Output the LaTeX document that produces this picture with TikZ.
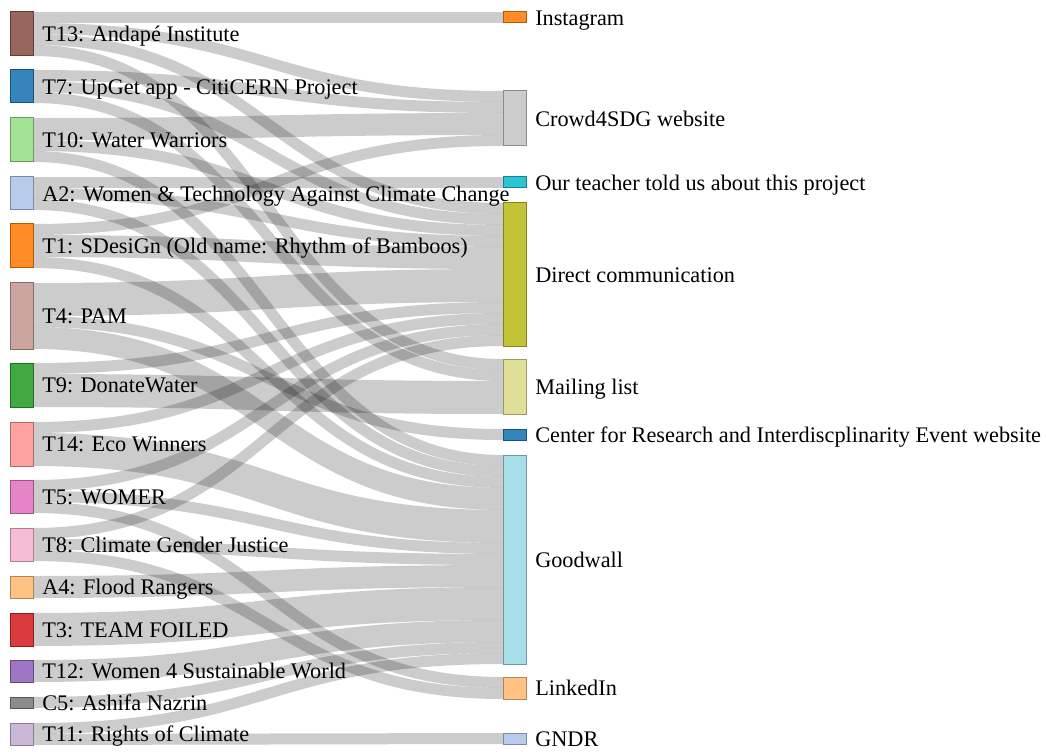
\documentclass[tikz,border=0pt]{standalone}
\usepackage{fontspec}
\setmainfont{Liberation Serif}
\usetikzlibrary{positioning,backgrounds}
\definecolor{cTxiii}{HTML}{8C564B}
\definecolor{cTvii}{HTML}{1F77B4}
\definecolor{cTx}{HTML}{98DF8A}
\definecolor{cAii}{HTML}{AEC7E8}
\definecolor{cTi}{HTML}{FF7F0E}
\definecolor{cTiv}{HTML}{C49C94}
\definecolor{cTix}{HTML}{2CA02C}
\definecolor{cTxiv}{HTML}{FF9896}
\definecolor{cTv}{HTML}{E377C2}
\definecolor{cTviii}{HTML}{F7B6D2}
\definecolor{cAiv}{HTML}{FFBB78}
\definecolor{cTiii}{HTML}{D62728}
\definecolor{cTxii}{HTML}{9467BD}
\definecolor{cCv}{HTML}{7F7F7F}
\definecolor{cTxi}{HTML}{C5B0D5}
\definecolor{cCrowd}{HTML}{C7C7C7}
\definecolor{cTeach}{HTML}{17BECF}
\definecolor{cDirect}{HTML}{BCBD22}
\definecolor{cMail}{HTML}{DBDB8D}
\definecolor{cGood}{HTML}{9EDAE5}
\tikzset{
  box/.style={rectangle,anchor=north west,inner sep=0pt,outer sep=0pt,
    minimum width=17.25pt,fill opacity=.9,line width=.75pt},
  lbl/.style={inner sep=0pt,font=\fontsize{16.7pt}{20pt}\selectfont},
  flow/.style={draw=black,draw opacity=.2}
}
% team on the left, channel on the right: name, top, units, colour, text
\newcommand\team[5]{\node(#1)[box,fill=#4,draw=#4!70!black,minimum height=#3*8.25pt] at (10,#2) {};
  \node(#1-l)[lbl,right=6.75pt of #1,anchor=base west,yshift=-5.85pt]{#5};}
\newcommand\channel[5]{\node(#1)[box,fill=#4,draw=#4!70!black,minimum height=#3*8.25pt] at (503,#2) {};
  \node(#1-l)[lbl,right=6.75pt of #1,anchor=base west,yshift=-5.85pt]{#5};}
% source, offset at source, target, offset at target, units
\newcommand\flow[5]{\draw[flow,line width=#5*8.25pt]
  ([yshift=-#2*8.25pt-#5*4.125pt]#1.north east) .. controls +(235,0) and +(-235,0) .. ([yshift=-#4*8.25pt-#5*4.125pt]#3.north west);}

\begin{document}
\begin{tikzpicture}[x=.75pt,y=-.75pt]
  \useasboundingbox (0,0) rectangle (1046,752);
  \team{T13}{12}{4}{cTxiii}{T13: Andapé Institute}
  \team{T7}{70}{3}{cTvii}{T7: UpGet app - CitiCERN Project}
  \team{T10}{118}{4}{cTx}{T10: Water Warriors}
  \team{A2}{177}{3}{cAii}{A2: Women \& Technology Against Climate Change}
  \team{T1}{224}{4}{cTi}{T1: SDesiGn (Old name: Rhythm of Bamboos)}
  \team{T4}{283}{6}{cTiv}{T4: PAM}
  \team{T9}{363}{4}{cTix}{T9: DonateWater}
  \team{T14}{422}{4}{cTxiv}{T14: Eco Winners}
  \team{T5}{480}{3}{cTv}{T5: WOMER}
  \team{T8}{528}{3}{cTviii}{T8: Climate Gender Justice}
  \team{A4}{576}{2}{cAiv}{A4: Flood Rangers}
  \team{T3}{613}{3}{cTiii}{T3: TEAM FOILED}
  \team{T12}{660}{2}{cTxii}{T12: Women 4 Sustainable World}
  \team{C5}{697}{1}{cCv}{C5: Ashifa Nazrin}
  \team{T11}{723}{2}{cTxi}{T11: Rights of Climate}

  \channel{Insta}{12}{1}{cTi}{Instagram}
  \channel{Crowd}{91}{5}{cCrowd}{Crowd4SDG website}
  \channel{Teach}{177}{1}{cTeach}{Our teacher told us about this project}
  \channel{Direct}{203}{13}{cDirect}{Direct communication}
  \channel{Mail}{359}{5}{cMail}{Mailing list}
  \channel{CRI}{429}{1}{cTvii}{Center for Research and Interdiscplinarity Event website}
  \channel{Good}{455}{19}{cGood}{Goodwall}
  \channel{Linked}{677}{2}{cAiv}{LinkedIn}
  \channel{GNDR}{733}{1}{cAii}{GNDR}

  \begin{scope}[on background layer]
  \flow{T13}{0}{Insta}{0}{1}   \flow{T13}{1}{Crowd}{0}{1}
  \flow{T13}{2}{Direct}{0}{1}  \flow{T13}{3}{Mail}{0}{1}
  \flow{T7}{0}{Crowd}{1}{1}    \flow{T7}{1}{Direct}{1}{1}
  \flow{T7}{2}{Mail}{1}{1}
  \flow{T10}{0}{Crowd}{2}{2}   \flow{T10}{2}{Direct}{2}{1}
  \flow{T10}{3}{Good}{0}{1}
  \flow{A2}{0}{Teach}{0}{1}    \flow{A2}{1}{Direct}{3}{1}
  \flow{A2}{2}{Good}{1}{1}
  \flow{T1}{0}{Crowd}{4}{1}    \flow{T1}{1}{Direct}{4}{2}
  \flow{T1}{3}{Good}{2}{1}
  \flow{T4}{0}{Direct}{6}{3}   \flow{T4}{3}{CRI}{0}{1}
  \flow{T4}{4}{Good}{3}{2}
  \flow{T9}{0}{Direct}{9}{1}   \flow{T9}{1}{Mail}{2}{3}
  \flow{T14}{0}{Direct}{10}{1} \flow{T14}{1}{Good}{5}{3}
  \flow{T5}{0}{Direct}{11}{1}  \flow{T5}{1}{Good}{8}{1}
  \flow{T5}{2}{Linked}{0}{1}
  \flow{T8}{0}{Direct}{12}{1}  \flow{T8}{1}{Good}{9}{1}
  \flow{T8}{2}{Linked}{1}{1}
  \flow{A4}{0}{Good}{10}{2}
  \flow{T3}{0}{Good}{12}{3}
  \flow{T12}{0}{Good}{15}{2}
  \flow{C5}{0}{Good}{17}{1}
  \flow{T11}{0}{Good}{18}{1}   \flow{T11}{1}{GNDR}{0}{1}
  \end{scope}
\end{tikzpicture}
\end{document}
